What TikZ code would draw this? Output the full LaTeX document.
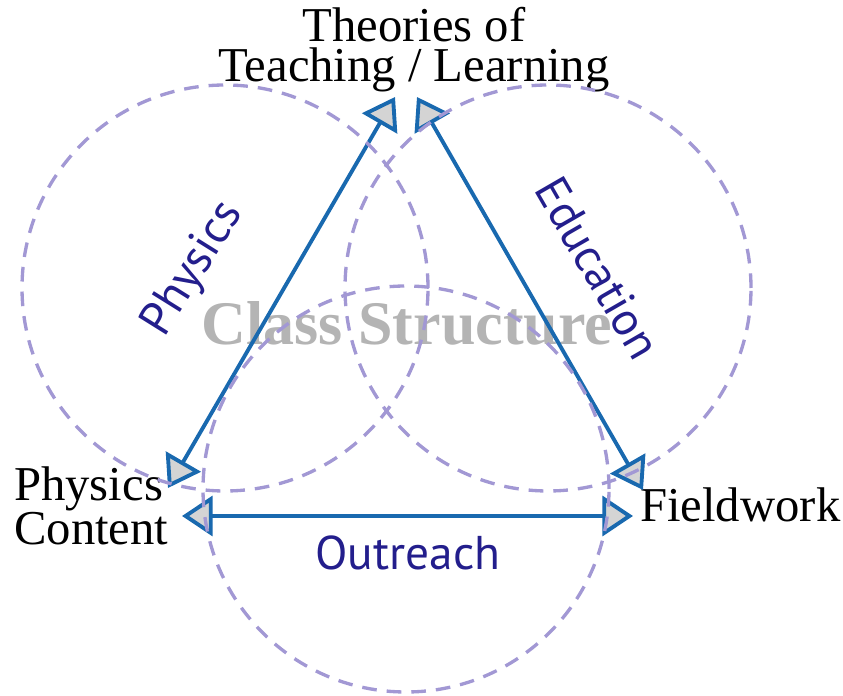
\documentclass[tikz,border=0pt]{standalone}
\usepackage{fontspec}
\setmainfont{Liberation Serif}
\newfontfamily\labelsans{PT Sans}
\usetikzlibrary{arrows.meta}
\definecolor{csblue}{RGB}{25,105,175}
\definecolor{csnavy}{RGB}{35,30,140}
\definecolor{cslav}{RGB}{162,152,212}
\definecolor{csgray}{RGB}{180,180,180}
\definecolor{cstip}{RGB}{212,212,212}

\begin{document}
\begin{tikzpicture}[x=0.75pt, y=0.75pt,
  corner/.style={inner sep=0pt, font=\fontsize{36.5}{30}\selectfont},
  theme/.style={inner sep=0pt, text=csnavy, font=\labelsans\fontsize{35.5}{40}\selectfont},
  ring/.style={draw=cslav, line width=2.5pt, dash pattern=on 11pt off 7.5pt},
  arr/.style={{Triangle[length=23pt, width=30pt, fill=cstip]}-{Triangle[length=23pt, width=30pt, fill=cstip]},
    line width=2.9pt, csblue}]
\useasboundingbox (0,0) rectangle (843,696);
% Background title
\node[inner sep=0pt, anchor=base, text=csgray, font=\bfseries\fontsize{46.5}{50}\selectfont] (cls) at (407,351) {Class Structure};
% Corners
\node[corner, align=center] (theo) at (414,646) {Theories of\\Teaching / Learning};
\node[corner, align=left, anchor=west] (phys) at (14,190) {Physics\\Content};
\node[corner, anchor=base west] (field) at (640,174) {Fieldwork};
% Arrow ends
\coordinate (tl) at (395,599);
\coordinate (tr) at (417,599);
\coordinate (pa) at (168,208);
\coordinate (pb) at (182,180);
\coordinate (fa) at (643,206);
\coordinate (fb) at (633,180);
\draw[arr] (tl) -- (pa);
\draw[arr] (tr) -- (fa);
\draw[arr] (pb) -- (fb);
% Overlapping circles
\node[ring, circle, minimum size=406pt*0.75, inner sep=0pt] (cphys) at (225,408) {};
\node[ring, circle, minimum size=406pt*0.75, inner sep=0pt] (cedu) at (548,408) {};
\node[ring, circle, minimum size=406pt*0.75, inner sep=0pt] (cout) at (406,207) {};
% Side labels
\node[theme, rotate=58] (lphys) at (194,427) {Physics};
\node[theme, rotate=-60] (ledu) at (598,428) {Education};
\node[theme, anchor=base] (lout) at (408,126) {Outreach};
\end{tikzpicture}
\end{document}
